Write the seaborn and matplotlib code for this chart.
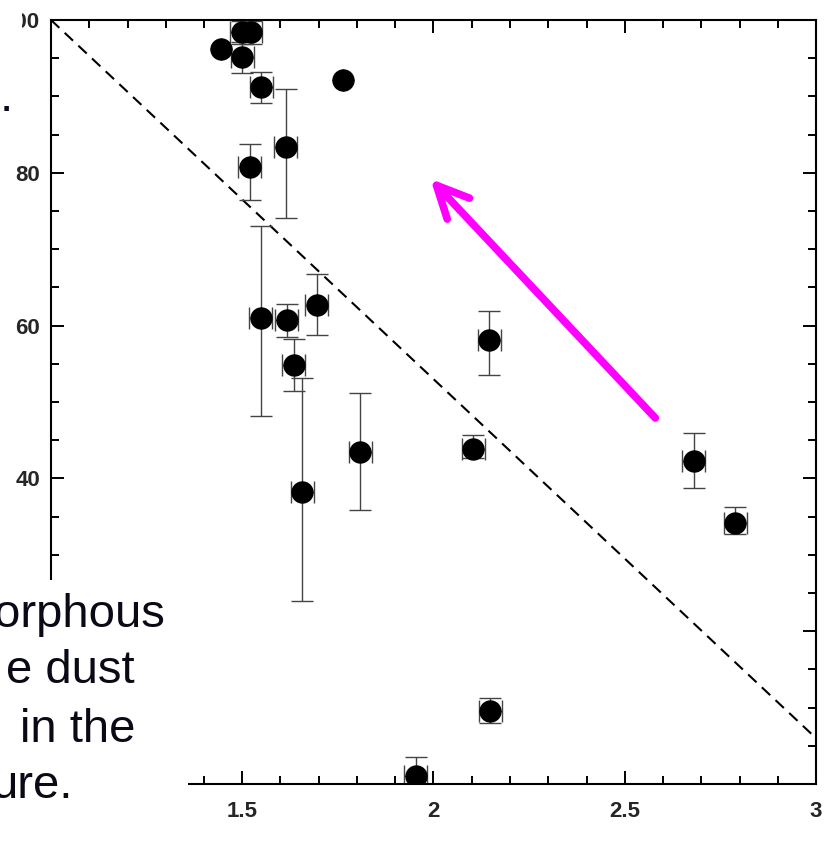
import numpy as np
import pandas as pd
import seaborn as sns
import matplotlib.pyplot as plt
from matplotlib.patches import Rectangle

# values
x_vals = [1.444, 1.499, 1.522, 1.500, 1.550, 1.764, 1.614, 1.520, 1.548, 1.616,
          1.695, 1.635, 1.657, 1.809, 2.104, 2.146, 2.680, 2.789, 2.149, 1.953]
y_vals = [96.2, 98.4, 98.4, 95.1, 91.2, 92.2, 83.4, 80.7, 61.0, 60.7,
          62.7, 54.8, 38.2, 43.5, 43.9, 58.1, 42.3, 34.2, 9.6, 1.0]
y_err_low = [0.0, 1.5, 1.5, 2.0, 2.1, 0.0, 9.3, 4.3, 12.8, 2.2,
             3.9, 3.4, 14.3, 7.7, 1.2, 4.6, 3.5, 1.5, 1.6, 2.5]
y_err_high = [0.0, 1.5, 1.5, 2.0, 2.0, 0.0, 7.6, 3.1, 12.1, 2.1,
              4.0, 3.5, 15.0, 7.7, 1.8, 3.8, 3.7, 2.1, 1.6, 2.5]
x_err = [0.0, 0.03, 0.03, 0.03, 0.03, 0.0, 0.03, 0.03, 0.03, 0.03,
         0.03, 0.03, 0.03, 0.03, 0.03, 0.03, 0.03, 0.03, 0.03, 0.03]

dash_x = [1.0, 3.0]
dash_y = [100.0, 6.0]

arrow_tail = (2.580, 47.9)
arrow_head = (1.992, 79.2)

# labels hidden behind the slide text boxes are left blank
x_ticks = [1.0, 1.5, 2.0, 2.5, 3.0]
x_tick_labels = ["", "1.5", "2", "2.5", "3"]
y_ticks = [0, 20, 40, 60, 80, 100]
y_tick_labels = ["", "", "40", "60", "80", "100"]

text_lines = ["orphous", "e dust", "in the", "ure."]

df = pd.DataFrame({"x": x_vals, "y": y_vals})

sns.set_style("ticks")
plt.rcParams['font.family'] = ['Liberation Sans', 'DejaVu Sans']

W, H = 825, 857
fig = plt.figure(figsize=(W / 100, H / 100), dpi=100)
ax = fig.add_axes([51 / W, 1 - 784 / H, (816 - 51) / W, (784 - 20) / H])

ax.errorbar(x_vals, y_vals, yerr=[y_err_low, y_err_high], xerr=x_err, fmt='none',
            ecolor='#444444', elinewidth=1.0, capsize=8, capthick=1.0, zorder=2)
sns.scatterplot(data=df, x="x", y="y", color='black', s=260, linewidth=0,
                ax=ax, zorder=3)
sns.lineplot(x=dash_x, y=dash_y, color='black', linestyle=(0, (5.5, 3.5)),
             linewidth=1.5, ax=ax, zorder=1)

ax.annotate("", xy=arrow_head, xytext=arrow_tail,
            arrowprops=dict(arrowstyle="->,head_length=1.15,head_width=0.55",
                            mutation_scale=20, color='#ff00ff', lw=5.5,
                            shrinkA=0, shrinkB=0))

ax.set_xlim(1, 3)
ax.set_ylim(0, 100)
ax.set_xticks(x_ticks)
ax.set_xticklabels(x_tick_labels)
ax.set_yticks(y_ticks)
ax.set_yticklabels(y_tick_labels)
ax.set_xticks(np.arange(1, 3.0001, 0.1), minor=True)
ax.set_yticks(np.arange(0, 100.001, 5), minor=True)
ax.set_xlabel("")
ax.set_ylabel("")

for s in ax.spines.values():
    s.set_visible(True)
    s.set_linewidth(1.5)
    s.set_color('black')

ax.tick_params(which='both', direction='in', top=True, right=True, width=1.4,
               color='black')
ax.tick_params(which='major', length=9.5)
ax.tick_params(which='minor', length=5.5)
ax.tick_params(axis='x', pad=12)
ax.tick_params(axis='y', pad=8)
for lab in ax.get_xticklabels() + ax.get_yticklabels():
    lab.set_fontweight('bold')
    lab.set_fontsize(16)

# white boxes of the slide text that sit over the chart
fig.add_artist(Rectangle((0, 1 - 130 / H), 22 / W, 130 / H, transform=fig.transFigure,
                         facecolor='white', edgecolor='none', zorder=10))
fig.add_artist(Rectangle((0, 0), 188 / W, 1 - 580 / H, transform=fig.transFigure,
                         facecolor='white', edgecolor='none', zorder=10))

rights = [165, 135, 135, 73]
baselines = [627, 683, 742, 798]
for t, r, b in zip(text_lines, rights, baselines):
    fig.text(r / W, 1 - b / H, t, ha='right', va='baseline', fontsize=34,
             color='#0a0a16', zorder=11)
fig.text(13 / W, 1 - 111 / H, ".", ha='right', va='baseline', fontsize=34,
         color='#0a0a16', zorder=11)

fig.savefig("out.png", dpi=100, facecolor='white')
